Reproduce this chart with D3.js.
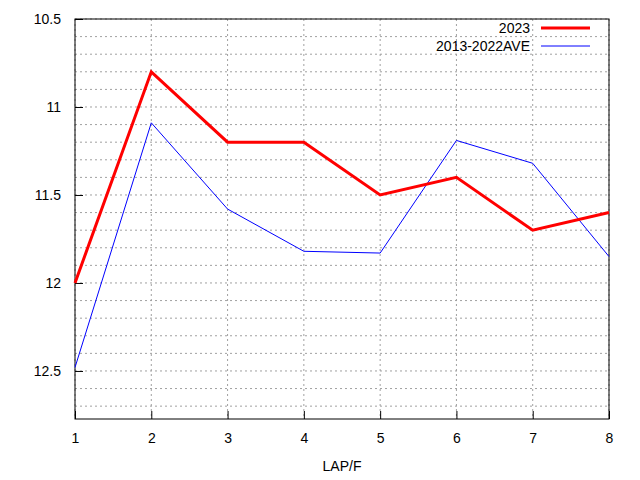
<!DOCTYPE html>
<html>
<head>
<meta charset="utf-8">
<script src="https://d3js.org/d3.v7.min.js"></script>
<style>
  body { margin: 0; background: #fff; }
  text { font-family: "Liberation Sans", Arial, sans-serif; font-size: 14px; }
</style>
</head>
<body>
<script>
  var laps = [1, 2, 3, 4, 5, 6, 7, 8];
  var y2023 = [12.0, 10.8, 11.2, 11.2, 11.5, 11.4, 11.7, 11.6];
  var yAve = [12.48, 11.09, 11.58, 11.82, 11.83, 11.19, 11.32, 11.85];
  var yTicks = [10.5, 11, 11.5, 12, 12.5];
  var yGrid = d3.range(105, 128).map(function(d) { return d / 10; });

  var svg = d3.select("body").append("svg").attr("width", 640).attr("height", 480);
  var x = d3.scaleLinear().domain([1, 8]).range([75, 609]);
  var y = d3.scaleLinear().domain([10.5, 12.773]).range([19, 419]);

  // grid
  svg.selectAll(".gy").data(yGrid).enter().append("line")
    .attr("x1", 75).attr("x2", 609)
    .attr("y1", function(d) { return y(d); }).attr("y2", function(d) { return y(d); })
    .attr("stroke", "#a0a0a0").attr("stroke-dasharray", "2,3");
  svg.selectAll(".gx").data(laps).enter().append("line")
    .attr("y1", 19).attr("y2", 419)
    .attr("x1", function(d) { return x(d); }).attr("x2", function(d) { return x(d); })
    .attr("stroke", "#a0a0a0").attr("stroke-dasharray", "2,3");

  // axes
  var ax = svg.append("g").attr("transform", "translate(0,419)")
    .call(d3.axisBottom(x).tickValues(laps).tickFormat(d3.format("d")).tickSizeInner(-8).tickSizeOuter(0).tickPadding(14));
  var ay = svg.append("g").attr("transform", "translate(75,0)")
    .call(d3.axisLeft(y).tickValues(yTicks).tickFormat(function(d) { return d; }).tickSizeInner(-8).tickSizeOuter(0).tickPadding(14));
  svg.selectAll(".domain").remove();
  svg.selectAll(".tick line").attr("stroke", "#000");
  svg.selectAll(".tick text").attr("fill", "#000").style("font-size", "14px");
  svg.append("rect").attr("x", 75).attr("y", 19).attr("width", 534).attr("height", 400)
    .attr("fill", "none").attr("stroke", "#000");

  var line = d3.line().x(function(d, i) { return x(laps[i]); }).y(function(d) { return y(d); });
  svg.append("path").datum(yAve).attr("d", line).attr("fill", "none").attr("stroke", "#0000ff").attr("stroke-width", 1);
  svg.append("path").datum(y2023).attr("d", line).attr("fill", "none").attr("stroke", "#ff0000").attr("stroke-width", 3);

  // legend
  var leg = [["2023", "#ff0000", 3, 38], ["2013-2022AVE", "#0000ff", 1, 56]];
  leg.forEach(function(l) {
    svg.append("text").attr("x", 530).attr("y", l[3] - 5).attr("text-anchor", "end").text(l[0]);
    svg.append("line").attr("x1", 541).attr("x2", 590).attr("y1", l[3] - 5 - 5).attr("y2", l[3] - 5 - 5)
      .attr("stroke", l[1]).attr("stroke-width", l[2]);
  });

  svg.append("text").attr("x", 342).attr("y", 471).attr("text-anchor", "middle").text("LAP/F");
</script>
</body>
</html>
